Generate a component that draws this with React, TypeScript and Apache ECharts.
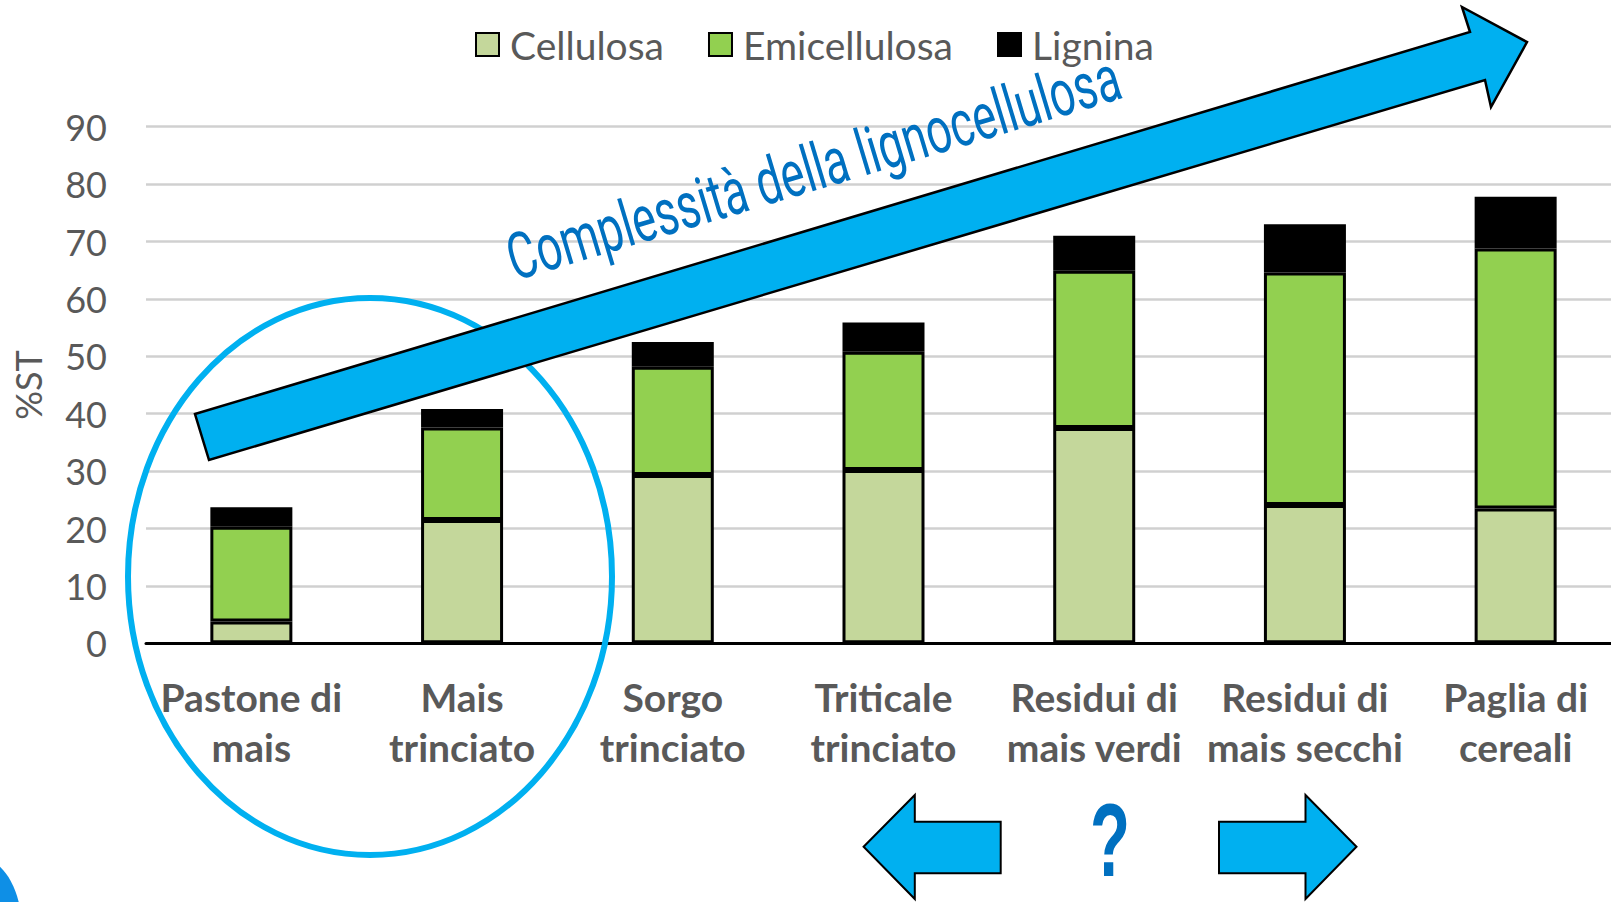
import React, { useEffect, useRef } from 'react';
import * as echarts from 'echarts';

const categories = [
  'Pastone di\nmais',
  'Mais\ntrinciato',
  'Sorgo\ntrinciato',
  'Triticale\ntrinciato',
  'Residui di\nmais verdi',
  'Residui di\nmais secchi',
  'Paglia di\ncereali',
];
const cellulosa = [3.8, 21.5, 29.3, 30.2, 37.5, 24.1, 23.5];
const emicellulosa = [16.5, 16.1, 18.9, 20.6, 27.4, 40.5, 45.3];
const lignina = [3.4, 3.2, 4.3, 5.1, 6.1, 8.4, 9.0];
const seriesNames = ['Cellulosa', 'Emicellulosa', 'Lignina'];
const seriesColors = ['#C4D79B', '#92D050', '#000000'];
const yMin = 0;
const yMax = 90;
const yInterval = 10;
const arrowText = 'Complessità della lignocellulosa';

function measure(text: string, font: string): number {
  const c = document.createElement('canvas');
  const ctx = c.getContext('2d');
  if (!ctx) return 1;
  ctx.font = font;
  return ctx.measureText(text).width;
}

export default function App() {
  const ref = useRef<HTMLDivElement>(null);
  useEffect(() => {
    if (!ref.current) return;
    const chart = echarts.init(ref.current, undefined, { renderer: 'svg' });
    const gray = '#595959';
    const blue = '#00B0F0';
    const darkBlue = '#0070C0';

    const arrowFontSize = 65;
    const arrowFont = `${arrowFontSize}px Roboto`;
    const arrowW = measure(arrowText, arrowFont);
    const arrowScale = 637 / arrowW;
    const theta = Math.atan2(183.7, 610.5);
    const off = 23;
    const tx = 515 - Math.sin(theta) * off;
    const ty = 281.7 - Math.cos(theta) * off;

    const qFont = `bold 104px "Liberation Sans", Arial, sans-serif`;
    const qW = measure('?', qFont);
    const qScale = 40 / qW;

    const dataSets = [cellulosa, emicellulosa, lignina];

    chart.setOption({
      animation: false,
      backgroundColor: '#ffffff',
      legend: {
        data: seriesNames,
        left: 470,
        top: 20,
        itemWidth: 23,
        itemHeight: 23,
        itemGap: 44,
        icon: 'rect',
        textStyle: { fontFamily: 'Lato', fontSize: 39, color: gray, padding: [0, 0, 0, 6] },
      },
      grid: { left: 146, right: 0, top: 126.7, bottom: 258.7, containLabel: false },
      xAxis: {
        type: 'category',
        data: categories,
        axisLine: { show: true, lineStyle: { color: '#000000', width: 3 } },
        axisTick: { show: false },
        axisLabel: {
          interval: 0,
          color: gray,
          fontFamily: 'Lato',
          fontWeight: 'bold',
          fontSize: 39,
          lineHeight: 50,
          margin: 29,
        },
      },
      yAxis: {
        type: 'value',
        min: yMin,
        max: yMax,
        interval: yInterval,
        name: '%ST',
        nameLocation: 'middle',
        nameRotate: 90,
        nameGap: 100,
        nameTextStyle: { fontFamily: 'Lato', fontSize: 36, color: gray },
        axisLine: { show: false },
        axisTick: { show: false },
        axisLabel: { color: gray, fontFamily: 'Lato', fontSize: 36, margin: 39 },
        splitLine: { lineStyle: { color: '#D0D0D0', width: 2.5 } },
      },
      series: seriesNames.map((name, i) => ({
        name,
        type: 'bar',
        stack: 'total',
        barWidth: 82,
        data: dataSets[i],
        itemStyle: { color: seriesColors[i], borderColor: '#000000', borderWidth: 3 },
      })),
      graphic: [
        {
          type: 'ellipse',
          z: 100,
          shape: { cx: 370, cy: 576.5, rx: 242, ry: 278.5 },
          style: { fill: 'none', stroke: blue, lineWidth: 6 },
        },
        {
          type: 'polygon',
          z: 101,
          shape: {
            points: [
              [195, 414],
              [1470, 32],
              [1462, 7],
              [1527, 42],
              [1491, 107],
              [1485, 80],
              [209, 460],
            ],
          },
          style: { fill: blue, stroke: '#000000', lineWidth: 2.5 },
        },
        {
          type: 'text',
          z: 102,
          x: tx,
          y: ty,
          rotation: theta,
          scaleX: arrowScale,
          scaleY: 1,
          style: {
            text: arrowText,
            fill: darkBlue,
            font: arrowFont,
            align: 'left',
            verticalAlign: 'middle',
          },
        },
        {
          type: 'polygon',
          z: 101,
          shape: {
            points: [
              [863.6, 846.7],
              [914.8, 795],
              [914.8, 821.7],
              [1000.7, 821.7],
              [1000.7, 873.3],
              [914.8, 873.3],
              [914.8, 899],
            ],
          },
          style: { fill: blue, stroke: '#000000', lineWidth: 2 },
        },
        {
          type: 'polygon',
          z: 101,
          shape: {
            points: [
              [1356.5, 846.7],
              [1305.5, 795],
              [1305.5, 821.7],
              [1219, 821.7],
              [1219, 873.3],
              [1305.5, 873.3],
              [1305.5, 899],
            ],
          },
          style: { fill: blue, stroke: '#000000', lineWidth: 2 },
        },
        {
          type: 'text',
          z: 102,
          x: 1110,
          y: 840,
          scaleX: qScale,
          style: {
            text: '?',
            fill: darkBlue,
            font: qFont,
            align: 'center',
            verticalAlign: 'middle',
          },
        },
        {
          type: 'ellipse',
          z: 99,
          shape: { cx: -20, cy: 930, rx: 42, ry: 72 },
          style: { fill: '#0E8FE6' },
        },
      ],
    });
    return () => chart.dispose();
  }, []);
  return (
    <div style={{ position: 'fixed', left: 0, top: 0, width: 1611, height: 902, overflow: 'hidden' }}>
      <div ref={ref} style={{ width: 1621, height: 902 }} />
    </div>
  );
}
